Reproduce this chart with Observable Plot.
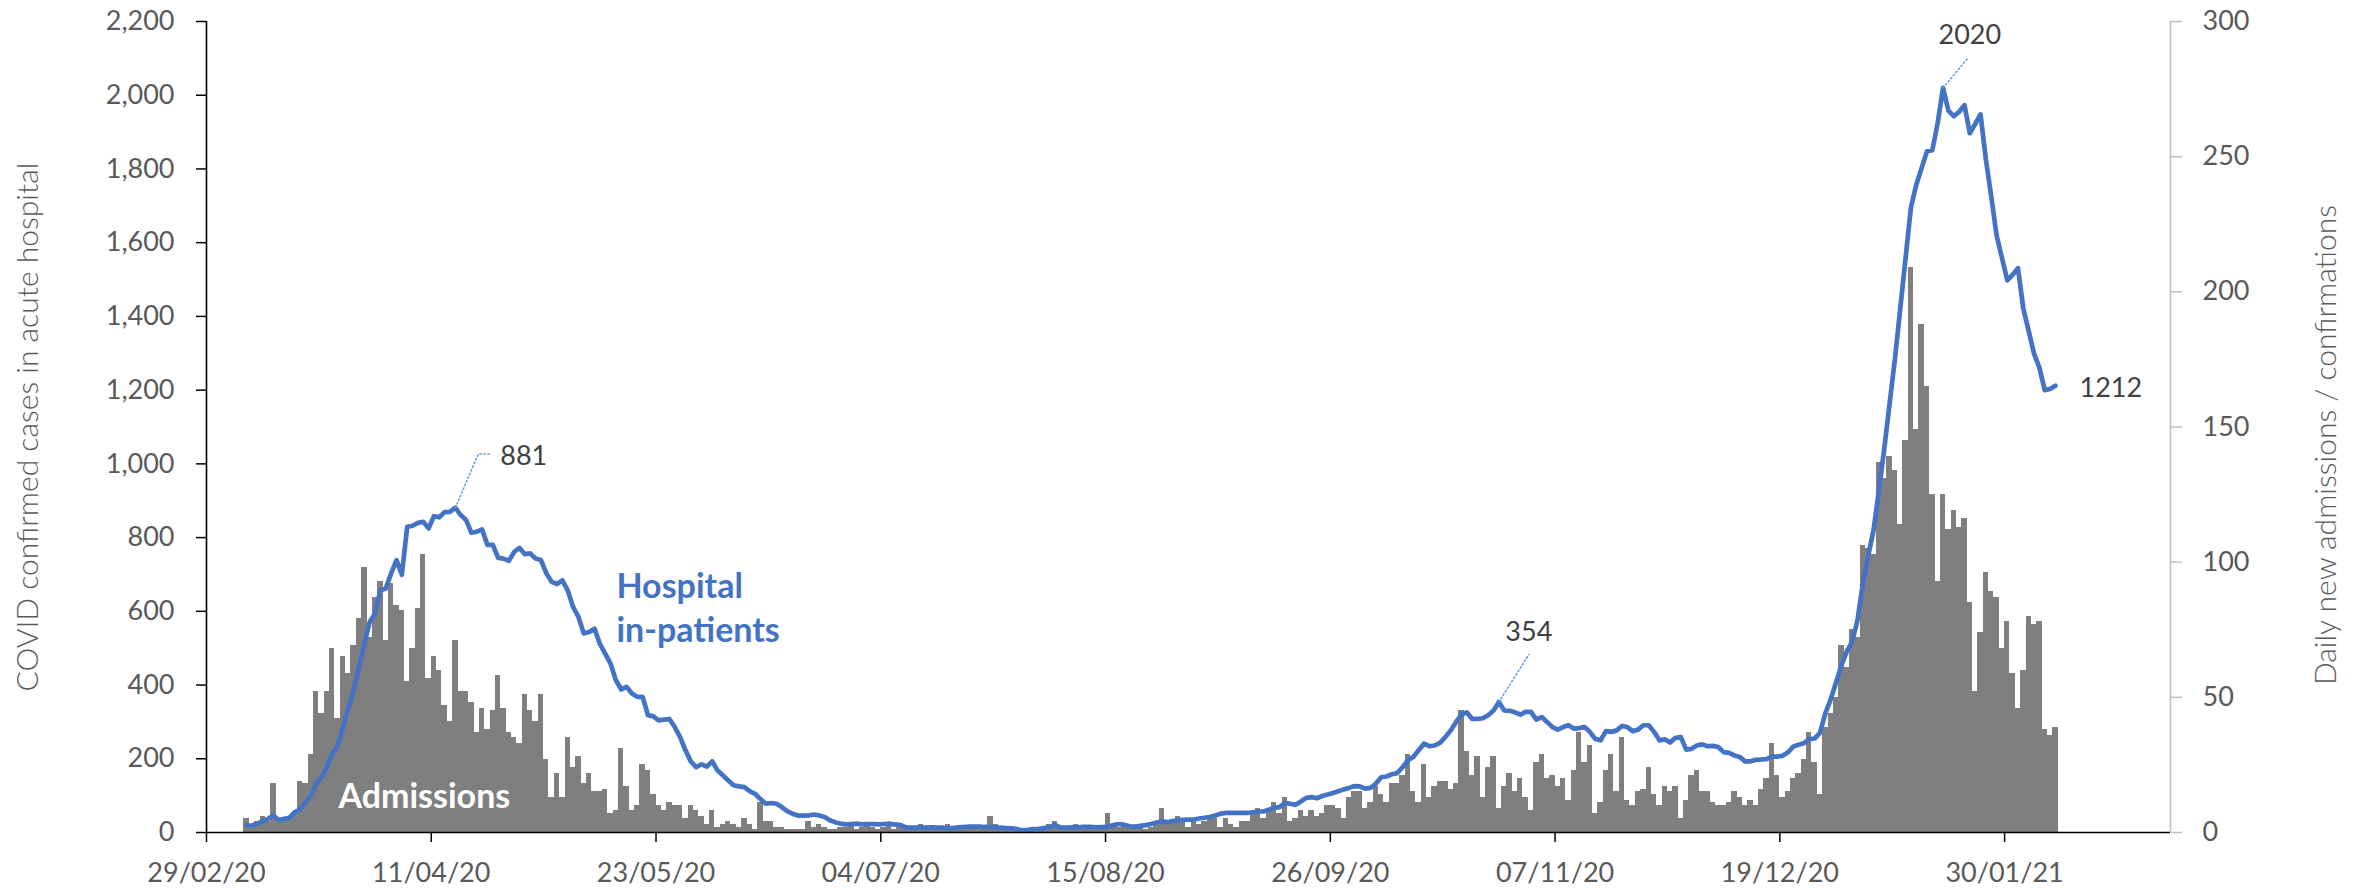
<!DOCTYPE html>
<html>
<head>
<meta charset="utf-8">
<script src="https://cdn.jsdelivr.net/npm/d3@7"></script>
<script src="https://cdn.jsdelivr.net/npm/@observablehq/plot@0.6"></script>
<style>
  body { margin: 0; background: #ffffff; }
  svg { display: block; }
</style>
</head>
<body>
<div id="chart"></div>
<script>
// ---- axis / category definitions ----
const axisStart = "2020-02-29";
const axisEndDay = 367;               // axis ends 02/03/21
const firstDataDay = 7;               // first bar: 07/03/20
const tickDates = ["2020-02-29","2020-04-11","2020-05-23","2020-07-04","2020-08-15",
                   "2020-09-26","2020-11-07","2020-12-19","2021-01-30"];
const leftTicks = [0,200,400,600,800,1000,1200,1400,1600,1800,2000,2200];
const rightTicks = [0,50,100,150,200,250,300];

// ---- daily new admissions / confirmations (right axis), 07/03/20 .. 08/02/21 ----
const admissions = [
  5,3,4,6,4,18,4,4,6,7,19,18,29,52,44,52,68,42,65,59,69,79,98,72,87,93,71,92,84,82,
  56,68,83,103,57,65,60,47,41,71,52,52,48,37,46,38,45,58,46,37,35,33,51,45,
  41,51,27,13,22,13,35,24,28,18,22,15,15,16,7,8,31,17,8,10,25,23,14,10,8,11,10,10,5,10,
  8,6,3,8,2,3,4,3,2,5,3,1,11,4,4,2,2,1,1,1,1,4,2,3,2,1,1,2,2,
  3,1,2,3,2,1,2,3,1,2,1,2,2,3,1,2,1,2,3,1,1,2,1,2,1,2,6,3,1,1,2,1,0,1,1,2,1,3,4,2,
  1,2,3,1,2,2,1,2,7,3,2,3,2,2,3,1,2,3,9,
  4,4,6,4,2,5,3,4,5,5,2,5,3,2,4,4,7,9,5,8,11,7,13,4,5,8,6,8,6,7,10,10,9,5,13,15,15,9,11,17,
  14,11,18,18,21,29,15,11,25,13,17,19,19,16,18,45,30,21,28,13,24,
  28,9,17,22,15,20,13,8,26,29,20,21,17,20,12,23,37,26,32,7,11,23,29,15,35,12,10,15,16,24,
  14,10,17,15,17,5,12,21,23,15,15,11,10,10,11,15,13,10,12,10,16,20,33,21,13,15,20,22,27,37,
  26,14,39,44,50,69,61,75,72,106,105,103,137,131,139,134,114,145,209,149,188,165,125,93,125,
  112,119,113,116,85,52,74,96,89,87,68,78,59,46,60,80,77,78,38,36,39
];

// ---- COVID confirmed cases in acute hospital (left axis), same days ----
const inpatients = [
  19,19,24,31,37,46,34,37,40,55,62,82,100,132,150,177,214,236,286,336,386,449,512,571,594,
  657,662,703,739,699,829,832,840,843,825,858,855,869,870,881,861,848,813,816,822,780,780,
  745,743,737,761,772,755,757,
  743,739,703,680,674,684,657,612,585,540,544,553,512,485,458,413,388,395,377,368,368,318,
  315,304,306,308,286,259,223,193,177,185,179,193,168,155,141,128,125,123,112,105,91,78,80,
  78,69,58,51,46,46,46,49,46,42,33,28,24,22,
  23,24,22,23,23,22,23,24,22,21,15,13,13,14,13,14,13,13,12,12,14,15,16,16,16,15,15,13,13,12,
  11,9,6,7,9,10,12,14,21,14,13,14,14,15,15,15,14,15,16,20,23,21,17,16,18,20,23,27,30,
  28,31,33,34,35,35,38,40,42,46,51,53,53,53,53,53,55,57,57,62,67,69,80,78,75,84,94,96,93,99,
  103,107,112,117,121,126,125,119,121,132,150,152,158,161,177,196,205,223,241,234,236,243,
  259,277,300,320,326,308,308,310,318,
  331,354,331,330,326,320,327,327,306,313,300,286,279,286,291,282,283,286,273,254,250,275,
  273,277,289,286,275,279,291,291,273,250,253,244,257,259,225,227,236,239,234,235,232,218,
  216,209,205,193,193,197,198,199,206,206,208,217,233,238,242,254,
  255,270,323,361,407,453,491,517,575,674,750,819,926,1040,1162,1284,1421,1559,1696,1757,
  1803,1848,1851,1925,2020,1958,1943,1955,1973,1897,1922,1948,1826,1726,1620,1559,1498,1513,
  1531,1421,1360,1299,1261,1200,1203,1212
];

// ---- annotations (day offsets from axis start, values on left scale) ----
const peakLabels = ["881","354","2020","1212"];
const peakLabelDay = [54.9, 247.1, 329.5, 350.0];
const peakLabelValue = [1021, 543, 2162, 1206];
const peakLabelAnchor = ["start","middle","middle","start"];
const leaderId = [0,0,0,1,1,2,2];
const leaderDay = [46.5, 50.8, 53.0, 241.5, 247.1, 324.5, 329.1];
const leaderValue = [881, 1027, 1027, 354, 483, 2020, 2100];
const seriesLabels = ["Hospital\nin-patients", "Admissions"];
const seriesLabelDay = [76.6, 24.65];
const seriesLabelValue = [720, 96];
const axisTitles = ["COVID confirmed cases in acute hospital", "Daily new admissions / confirmations"];

// ---- build tables ----
const DAY = 864e5;
const t0 = Date.parse(axisStart + "T00:00:00Z");
const dayToDate = d => new Date(t0 + d * DAY);
const K = 2200 / 300; // right-axis to left-axis factor

const table = admissions.map((a, i) => ({
  start: dayToDate(firstDataDay + i),
  end: dayToDate(firstDataDay + i + 1),
  mid: dayToDate(firstDataDay + i + 0.5),
  adm: a,
  inp: inpatients[i]
}));
const peakTable = peakLabels.map((t, i) => ({text: t, x: dayToDate(peakLabelDay[i]), y: peakLabelValue[i], anchor: peakLabelAnchor[i]}));
const leaderTable = leaderId.map((id, i) => ({id, x: dayToDate(leaderDay[i]), y: leaderValue[i]}));
const fmtDate = d3.utcFormat("%d/%m/%y");
const font = "Lato, 'Open Sans', sans-serif";

const chart = Plot.plot({
  width: 2361,
  height: 890,
  marginLeft: 206,
  marginRight: 191,
  marginTop: 21,
  marginBottom: 58,
  style: {fontFamily: font, background: "#ffffff", overflow: "visible"},
  x: {type: "utc", domain: [dayToDate(0), dayToDate(axisEndDay)], axis: null},
  y: {domain: [0, 2200], axis: null},
  marks: [
    Plot.rectY(table, {x1: "start", x2: "end", y: d => d.adm * K, fill: "#7f7f7f", shapeRendering: "crispEdges"}),
    Plot.lineY(table, {x: "mid", y: "inp", stroke: "#4472c4", strokeWidth: 4.7, strokeLinejoin: "round", strokeLinecap: "round"}),
    Plot.ruleX([dayToDate(0)], {stroke: "#000000", strokeWidth: 1.6}),
    Plot.ruleX([dayToDate(axisEndDay)], {stroke: "#bfbfbf", strokeWidth: 1.6}),
    Plot.ruleY([0], {stroke: "#000000", strokeWidth: 1.6}),
    Plot.axisY(leftTicks, {anchor: "left", tickSize: 10, tickPadding: 22, stroke: "#000000", strokeWidth: 1.5,
      fill: "#595959", fontSize: 27, tickFormat: d3.format(","), label: null}),
    Plot.axisY(rightTicks.map(v => v * K), {anchor: "right", tickSize: 11, tickPadding: 21, stroke: "#bfbfbf", strokeWidth: 1.5,
      fill: "#595959", fontSize: 27, tickFormat: d => String(Math.round(d / K)), label: null}),
    Plot.axisX(tickDates.map(s => new Date(s + "T00:00:00Z")), {anchor: "bottom", tickSize: 10, tickPadding: 20,
      stroke: "#000000", strokeWidth: 1.5, fill: "#595959", fontSize: 27, tickFormat: fmtDate, label: null}),
    Plot.line(leaderTable, {x: "x", y: "y", z: "id", stroke: "#5b9bd5", strokeWidth: 1.5, strokeDasharray: "1.5 2.5"}),
    Plot.text(peakTable.filter(d => d.anchor === "start"), {x: "x", y: "y", text: "text", textAnchor: "start", fill: "#404040", fontSize: 27}),
    Plot.text(peakTable.filter(d => d.anchor === "middle"), {x: "x", y: "y", text: "text", textAnchor: "middle", fill: "#404040", fontSize: 27}),
    Plot.text([seriesLabels[0]], {x: () => dayToDate(seriesLabelDay[0]), y: () => seriesLabelValue[0], text: d => d,
      textAnchor: "start", lineAnchor: "top", lineHeight: 1.29, fill: "#4472c4", fontWeight: "bold", fontSize: 34}),
    Plot.text([seriesLabels[1]], {x: () => dayToDate(seriesLabelDay[1]), y: () => seriesLabelValue[1], text: d => d,
      textAnchor: "start", fill: "#ffffff", fontWeight: "bold", fontSize: 34}),
    Plot.text([axisTitles[0]], {frameAnchor: "left", dx: -178, rotate: -90, text: d => d,
      textAnchor: "middle", lineAnchor: "middle", fill: "#595959", fontSize: 30, fontWeight: 300}),
    Plot.text([axisTitles[1]], {frameAnchor: "right", dx: 156, dy: 18, rotate: -90, text: d => d,
      textAnchor: "middle", lineAnchor: "middle", fill: "#595959", fontSize: 30, fontWeight: 300})
  ]
});
document.getElementById("chart").appendChild(chart);
</script>
</body>
</html>
